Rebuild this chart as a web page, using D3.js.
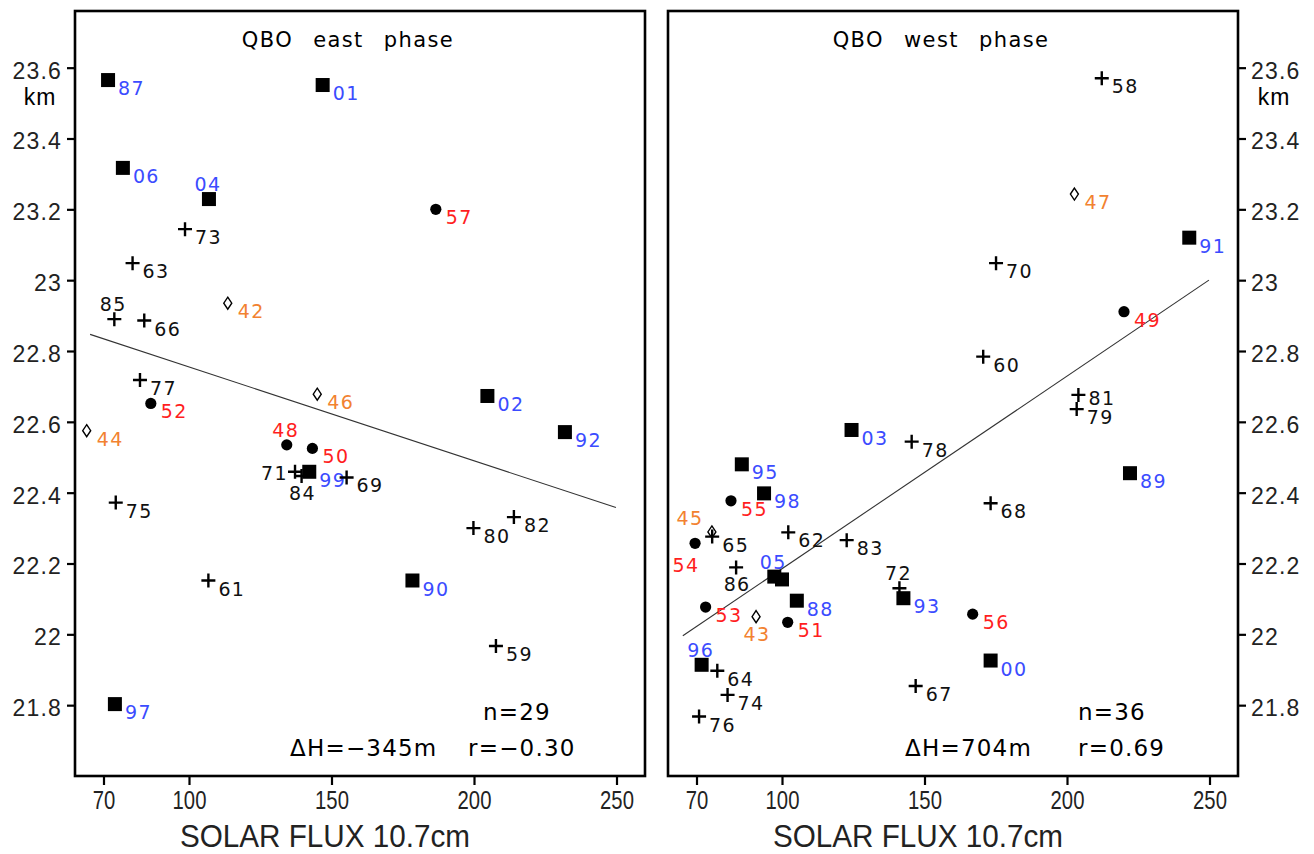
<!DOCTYPE html>
<html>
<head>
<meta charset="utf-8">
<script src="https://cdn.jsdelivr.net/npm/d3@7"></script>
<style>
  body { margin: 0; background: #fff; }
  svg { font-family: "Liberation Sans", Arial, sans-serif; }
</style>
</head>
<body>
<svg id="chart" width="1314" height="854"></svg>
<script>
// Axis ticks
const xTicks = [70, 100, 150, 200, 250];
const yTicks = [21.8, 22, 22.2, 22.4, 22.6, 22.8, 23, 23.2, 23.4, 23.6];

// [year label, solar flux, height km]
const eastSquares = [
  ["87", 71.6, 23.565], ["06", 76.8, 23.317], ["04", 107.0, 23.229],
  ["01", 146.9, 23.551], ["02", 204.7, 22.673], ["92", 231.9, 22.571],
  ["99", 142.2, 22.459], ["90", 178.4, 22.152], ["97", 74.0, 21.803]
];
const eastCircles = [
  ["57", 186.6, 23.200], ["52", 86.6, 22.652], ["48", 134.3, 22.535], ["50", 143.3, 22.525]
];
const eastDiamonds = [
  ["42", 113.6, 22.935], ["44", 64.1, 22.575], ["46", 145.0, 22.678]
];
const eastCrosses = [
  ["73", 98.6, 23.144], ["63", 80.2, 23.048], ["85", 73.8, 22.890],
  ["66", 84.3, 22.886], ["77", 82.8, 22.718], ["75", 74.3, 22.372],
  ["61", 106.8, 22.152], ["71", 137.2, 22.459], ["84", 139.5, 22.447],
  ["69", 155.3, 22.443], ["80", 199.8, 22.300], ["82", 214.0, 22.331],
  ["59", 207.7, 21.967]
];

const westSquares = [
  ["91", 242.9, 23.120], ["03", 124.4, 22.577], ["95", 85.9, 22.480],
  ["98", 93.7, 22.398], ["05", 97.3, 22.163], ["94", 100.0, 22.155],
  ["88", 105.2, 22.095], ["93", 142.6, 22.102], ["96", 71.8, 21.914],
  ["00", 173.2, 21.926], ["89", 222.1, 22.455]
];
const westCircles = [
  ["49", 220.0, 22.911], ["55", 82.1, 22.377], ["54", 69.5, 22.257],
  ["53", 73.2, 22.077], ["51", 102.0, 22.034], ["56", 166.9, 22.057]
];
const westDiamonds = [
  ["47", 202.6, 23.243], ["45", 75.4, 22.289], ["43", 90.9, 22.050]
];
const westCrosses = [
  ["58", 212.2, 23.570], ["70", 175.1, 23.048], ["60", 170.6, 22.784],
  ["81", 204.0, 22.676], ["79", 203.4, 22.636], ["78", 145.5, 22.544],
  ["68", 173.2, 22.370], ["62", 102.2, 22.288], ["83", 122.7, 22.266],
  ["65", 75.5, 22.276], ["86", 83.9, 22.189], ["72", 141.2, 22.130],
  ["64", 77.3, 21.897], ["74", 80.9, 21.829], ["76", 70.9, 21.768],
  ["67", 146.9, 21.854]
];

// Regression lines [flux, height]
const eastFit = [[65.3, 22.847], [249.8, 22.358]];
const westFit = [[65.2, 21.996], [249.8, 23.000]];

// Where each year label sits relative to its marker (default: right)
const eastLabelPos = { "04": "a", "48": "a", "85": "a", "71": "l", "84": "b" };
const westLabelPos = {
  "05": "a", "72": "a", "96": "a", "43": "b", "86": "b", "45": "al", "54": "bl",
  "81": "ru", "94": "none"
};

const typeColor = { square: "#3b4cff", circle: "#ff1e1e", diamond: "#f28230", cross: "#111" };

const svg = d3.select("#chart");
const W = 570, H = 765, panelTop = 11;
const wideFont = "'DejaVu Sans', Verdana, sans-serif";

const x = d3.scaleLinear().domain([60, 260]).range([0, W]);
const y = d3.scaleLinear().domain([21.6, 23.76]).range([H, 0]);

const fmtY = d => String(+d.toFixed(1));

const panels = [
  {
    left: 75, title: "QBO east phase", axisSide: "left",
    sets: [["square", eastSquares], ["circle", eastCircles], ["diamond", eastDiamonds], ["cross", eastCrosses]],
    fit: eastFit, labelPos: eastLabelPos,
    n: "n=29", dh: "\u0394H=\u2212345m", r: "r=\u22120.30",
    nX: 408, dhX: 215, rX: 393
  },
  {
    left: 668, title: "QBO west phase", axisSide: "right",
    sets: [["square", westSquares], ["circle", westCircles], ["diamond", westDiamonds], ["cross", westCrosses]],
    fit: westFit, labelPos: westLabelPos,
    n: "n=36", dh: "\u0394H=704m", r: "r=0.69",
    nX: 410, dhX: 237, rX: 410
  }
];

const labelOffset = {
  r:  { dx: 10, dy: 8, anchor: "start" },
  ru: { dx: 10, dy: 3, anchor: "start" },
  a:  { dx: -1, dy: -15, anchor: "middle" },
  b:  { dx: 1, dy: 17, anchor: "middle" },
  l:  { dx: -7, dy: 1, anchor: "end" },
  al: { dx: -22, dy: -14, anchor: "middle" },
  bl: { dx: -9, dy: 22, anchor: "middle" }
};

const markerPath = {
  diamond: "M0,-6L4,0L0,6L-4,0Z",
  cross: "M-7,0H7M0,-7V7"
};

panels.forEach(p => {

  const g = svg.append("g").attr("transform", `translate(${p.left},${panelTop})`);

  // x axis
  const xa = g.append("g")
    .attr("transform", `translate(0,${H})`)
    .call(d3.axisBottom(x).tickValues(xTicks).tickSize(9).tickPadding(4));
  xa.select(".domain").remove();
  xa.selectAll("line").attr("stroke", "#000").attr("stroke-width", 2.2);
  xa.selectAll("text")
    .attr("fill", "#222")
    .attr("font-size", 26)
    .attr("transform", "scale(0.78,1)")
    .attr("dy", "0.78em");

  // y axis
  const axisFn = p.axisSide === "left" ? d3.axisLeft(y) : d3.axisRight(y);
  const ya = g.append("g")
    .attr("transform", p.axisSide === "left" ? null : `translate(${W},0)`)
    .call(axisFn.tickValues(yTicks).tickSize(8).tickPadding(5).tickFormat(fmtY));
  ya.select(".domain").remove();
  ya.selectAll("line").attr("stroke", "#000").attr("stroke-width", 2.2);
  ya.selectAll("text")
    .attr("fill", "#222")
    .attr("font-size", 23)
    .attr("letter-spacing", 1.2)
    .attr("dy", "0.45em");

  g.append("text")
    .attr("x", p.axisSide === "left" ? -35 : W + 36)
    .attr("y", y(23.6) + 37)
    .attr("text-anchor", "middle")
    .attr("font-size", 23)
    .attr("letter-spacing", 1)
    .text("km");

  // frame
  g.append("rect")
    .attr("width", W).attr("height", H)
    .attr("fill", "none").attr("stroke", "#000").attr("stroke-width", 2.6);

  // title
  g.append("text")
    .attr("x", 273).attr("y", 29)
    .attr("text-anchor", "middle")
    .attr("dominant-baseline", "central")
    .attr("font-family", wideFont)
    .attr("font-size", 21)
    .attr("letter-spacing", 1.4)
    .attr("word-spacing", 12)
    .text(p.title);

  // regression line
  g.append("path")
    .datum(p.fit)
    .attr("d", d3.line().x(d => x(d[0])).y(d => y(d[1])))
    .attr("fill", "none").attr("stroke", "#333").attr("stroke-width", 1.1);

  // markers + labels
  p.sets.forEach(([type, rows]) => {

    const mg = g.append("g").selectAll("g")
      .data(rows)
      .join("g")
        .attr("transform", d => `translate(${x(d[1])},${y(d[2])})`);

    if (type === "square") {
      mg.append("rect").attr("x", -7).attr("y", -7).attr("width", 14).attr("height", 14).attr("fill", "#000");
    } else if (type === "circle") {
      mg.append("circle").attr("r", 5.6).attr("fill", "#000");
    } else if (type === "diamond") {
      mg.append("path").attr("d", markerPath.diamond).attr("fill", "#fff").attr("stroke", "#000").attr("stroke-width", 1.4);
    } else {
      mg.append("path").attr("d", markerPath.cross).attr("stroke", "#000").attr("stroke-width", 2.4);
    }

    mg.filter(d => p.labelPos[d[0]] !== "none")
      .append("text")
        .each(function (d) {
          const o = labelOffset[p.labelPos[d[0]] || "r"];
          d3.select(this)
            .attr("x", o.dx).attr("y", o.dy)
            .attr("text-anchor", o.anchor);
        })
        .attr("dominant-baseline", "central")
        .attr("font-family", wideFont)
        .attr("font-size", 19)
        .attr("letter-spacing", 1.4)
        .attr("fill", typeColor[type])
        .text(d => d[0]);
  });

  // statistics
  const stat = (tx, ty, s) => g.append("text")
    .attr("x", tx).attr("y", ty)
    .attr("dominant-baseline", "central")
    .attr("font-family", wideFont)
    .attr("font-size", 23).attr("letter-spacing", 1.2)
    .text(s);
  stat(p.nX, 701, p.n);
  stat(p.dhX, 737, p.dh);
  stat(p.rX, 737, p.r);

  // x axis title
  g.append("text")
    .attr("x", 250).attr("y", 836)
    .attr("text-anchor", "middle")
    .attr("font-size", 32)
    .attr("textLength", 290)
    .attr("lengthAdjust", "spacingAndGlyphs")
    .attr("fill", "#222")
    .text("SOLAR FLUX 10.7cm");
});
</script>
</body>
</html>
